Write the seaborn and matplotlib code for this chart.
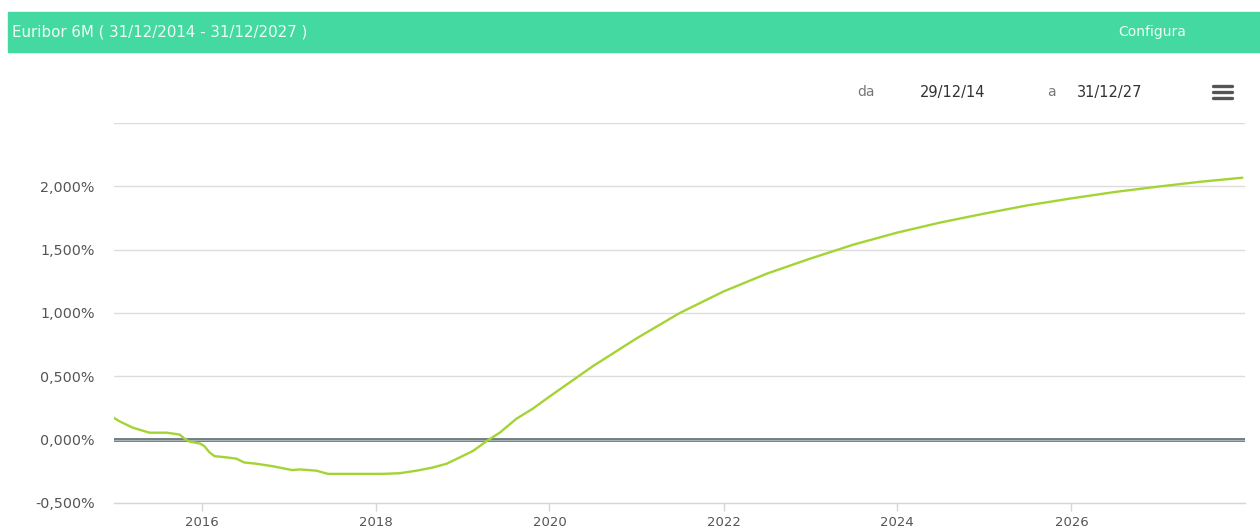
import pandas as pd
import seaborn as sns
import matplotlib.pyplot as plt
import matplotlib.dates as mdates
from matplotlib.lines import Line2D
from matplotlib.patches import Rectangle
from matplotlib.ticker import FuncFormatter

# Euribor 6M (percent)
dates = [
    "2014-12-29", "2015-01-21", "2015-03-17", "2015-05-27", "2015-08-08",
    "2015-10-01", "2015-10-20", "2015-11-10", "2015-12-24", "2016-01-12",
    "2016-02-03", "2016-02-24", "2016-04-15", "2016-05-26", "2016-06-28",
    "2016-08-18", "2016-10-26", "2017-01-15", "2017-02-17", "2017-04-28",
    "2017-06-14", "2017-09-13", "2018-01-30", "2018-04-12", "2018-06-21",
    "2018-08-28", "2018-10-26", "2018-12-20", "2019-02-13", "2019-04-13",
    "2019-06-06", "2019-08-15", "2019-10-23", "2020-01-01", "2020-07-01",
    "2021-01-01", "2021-07-01", "2022-01-01", "2022-07-01", "2023-01-01",
    "2023-07-01", "2024-01-01", "2024-07-01", "2025-01-01", "2025-07-01",
    "2026-01-01", "2026-07-01", "2027-01-01", "2027-07-01", "2027-12-20",
]
rates = [
    0.172, 0.145, 0.095, 0.055, 0.055,
    0.040, 0.010, -0.015, -0.030, -0.050,
    -0.100, -0.130, -0.140, -0.150, -0.180,
    -0.190, -0.210, -0.240, -0.235, -0.245,
    -0.270, -0.270, -0.270, -0.265, -0.245,
    -0.220, -0.190, -0.140, -0.090, -0.010,
    0.055, 0.165, 0.245, 0.340, 0.580,
    0.800, 1.000, 1.170, 1.310, 1.430,
    1.540, 1.635, 1.715, 1.785, 1.850,
    1.905, 1.955, 1.998, 2.037, 2.068,
]
y_ticks = [-0.5, 0.0, 0.5, 1.0, 1.5, 2.0]
x_years = [2016, 2018, 2020, 2022, 2024, 2026]

title = "Euribor 6M ( 31/12/2014 - 31/12/2027 )"
date_from = "29/12/14"
date_to = "31/12/27"

df = pd.DataFrame({"date": pd.to_datetime(dates), "rate": rates})

sns.set_theme(style="white")
plt.rcParams["font.family"] = ["DejaVu Sans"]

fig = plt.figure(figsize=(12.6, 5.29), dpi=100)
ax = fig.add_axes([114 / 1260, 1 - 503 / 529, (1245 - 114) / 1260, 380 / 529])

# grid lines (2,5% line drawn without label)
for v in y_ticks[1:] + [2.5]:
    ax.axhline(v, color="#dcdcdc", lw=1, zorder=1)
ax.axhline(0, color="#6f7d7e", lw=2.8, zorder=2)
ax.axhline(0, color="#a9b5b6", lw=0.8, zorder=2)

sns.lineplot(data=df, x="date", y="rate", ax=ax, color="#a4d433", lw=1.7, zorder=3)

ax.set_xlim(pd.Timestamp("2014-12-29"), pd.Timestamp("2027-12-31"))
ax.set_ylim(-0.5, 2.5)
ax.set_yticks(y_ticks)
ax.yaxis.set_major_formatter(FuncFormatter(lambda v, _: f"{v:.3f}%".replace(".", ",")))
ax.set_xticks([pd.Timestamp(f"{y}-01-01") for y in x_years])
ax.xaxis.set_major_formatter(mdates.DateFormatter("%Y"))
ax.set_xlabel("")
ax.set_ylabel("")

for s in ["top", "right", "left"]:
    ax.spines[s].set_visible(False)
ax.spines["bottom"].set_color("#d6d6d6")
ax.spines["bottom"].set_linewidth(1)
ax.tick_params(axis="y", length=0, pad=14, labelsize=10.3, labelcolor="#555555")
ax.tick_params(axis="x", length=6, width=1, color="#d6d6d6", pad=3,
               labelsize=9.5, labelcolor="#555555", bottom=True)

# header bar
fig.patches.append(Rectangle((8 / 1260, 1 - 52 / 529), 1 - 8 / 1260, 40 / 529,
                             transform=fig.transFigure, color="#43d9a1", zorder=0))
fig.text(12 / 1260, 1 - 32 / 529, title, color="#eefcf6", fontsize=10.8,
         va="center", ha="left")
fig.text(1152 / 1260, 1 - 32 / 529, "Configura", color="#eefcf6", fontsize=10,
         va="center", ha="center")

# range selector
ty = 1 - 92 / 529
fig.text(866 / 1260, ty, "da", color="#777777", fontsize=10, ha="center", va="center")
fig.text(953 / 1260, ty, date_from, color="#333333", fontsize=10.5, ha="center", va="center")
fig.text(1051 / 1260, ty, "a", color="#777777", fontsize=10, ha="center", va="center")
fig.text(1110 / 1260, ty, date_to, color="#333333", fontsize=10.5, ha="center", va="center")
for yy in (86, 92, 98):
    fig.add_artist(Line2D([1213 / 1260, 1232 / 1260], [1 - yy / 529] * 2,
                          transform=fig.transFigure, color="#555555", lw=2.4))

fig.savefig("out.png", dpi=100)
